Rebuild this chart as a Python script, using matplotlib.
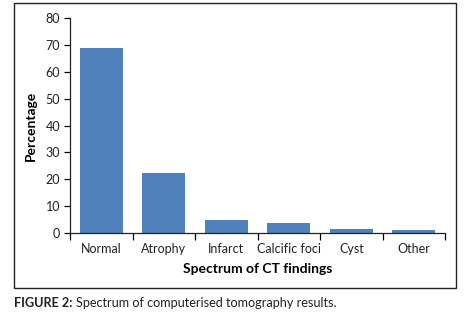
import matplotlib
matplotlib.use("Agg")
import matplotlib.pyplot as plt
from matplotlib.patches import Rectangle

categories = ["Normal", "Atrophy", "Infarct", "Calcific foci", "Cyst", "Other"]
values = [68.8, 22.3, 4.8, 3.7, 1.5, 1.1]
yticks = [0, 10, 20, 30, 40, 50, 60, 70, 80]

plt.rcParams['font.family'] = ['Lato', 'DejaVu Sans']

fig = plt.figure(figsize=(4.67, 3.18), dpi=100)
fig.patches.append(Rectangle((0.030, 0.094), 0.946, 0.897, transform=fig.transFigure,
                             fill=False, edgecolor='#222222', linewidth=1.0))

ax = fig.add_axes([0.150, 0.267, 0.803, 0.676])
x = list(range(len(categories)))
ax.bar(x, values, width=0.69, color='#4F81BD')
ax.set_xlim(-0.5, len(categories) - 0.5)
ax.set_ylim(0, 80)
ax.set_yticks(yticks)
ax.set_yticklabels([str(t) for t in yticks], fontsize=9, color='#222222')
ax.set_xticks(x)
ax.set_xticklabels(categories, fontsize=9, color='#222222')
ax.tick_params(axis='x', length=0, pad=7)
ax.set_xticks([i - 0.5 for i in range(len(categories) + 1)], minor=True)
ax.tick_params(axis='x', which='minor', length=5, direction='out', width=0.9)
ax.tick_params(axis='y', length=4, direction='out', width=0.9, pad=3)
for s in ['top', 'right']:
    ax.spines[s].set_visible(False)
for s in ['left', 'bottom']:
    ax.spines[s].set_linewidth(0.9)
    ax.spines[s].set_color('#222222')
ax.set_xlabel("Spectrum of CT findings", fontsize=10, fontweight='bold', labelpad=6)
ax.set_ylabel("Percentage", fontsize=10, fontweight='bold', labelpad=6)

t1 = fig.text(0.030, 0.047, "FIGURE 2:", fontsize=9.1, fontweight='bold',
              va='center', ha='left', color='#222222')
fig.canvas.draw()
bb = t1.get_window_extent(renderer=fig.canvas.get_renderer())
x_next = (bb.x1 + 3) / fig.bbox.width
fig.text(x_next, 0.047, "Spectrum of computerised tomography results.", fontsize=9.1,
         va='center', ha='left', color='#222222')
fig.savefig("out.png", dpi=100)
